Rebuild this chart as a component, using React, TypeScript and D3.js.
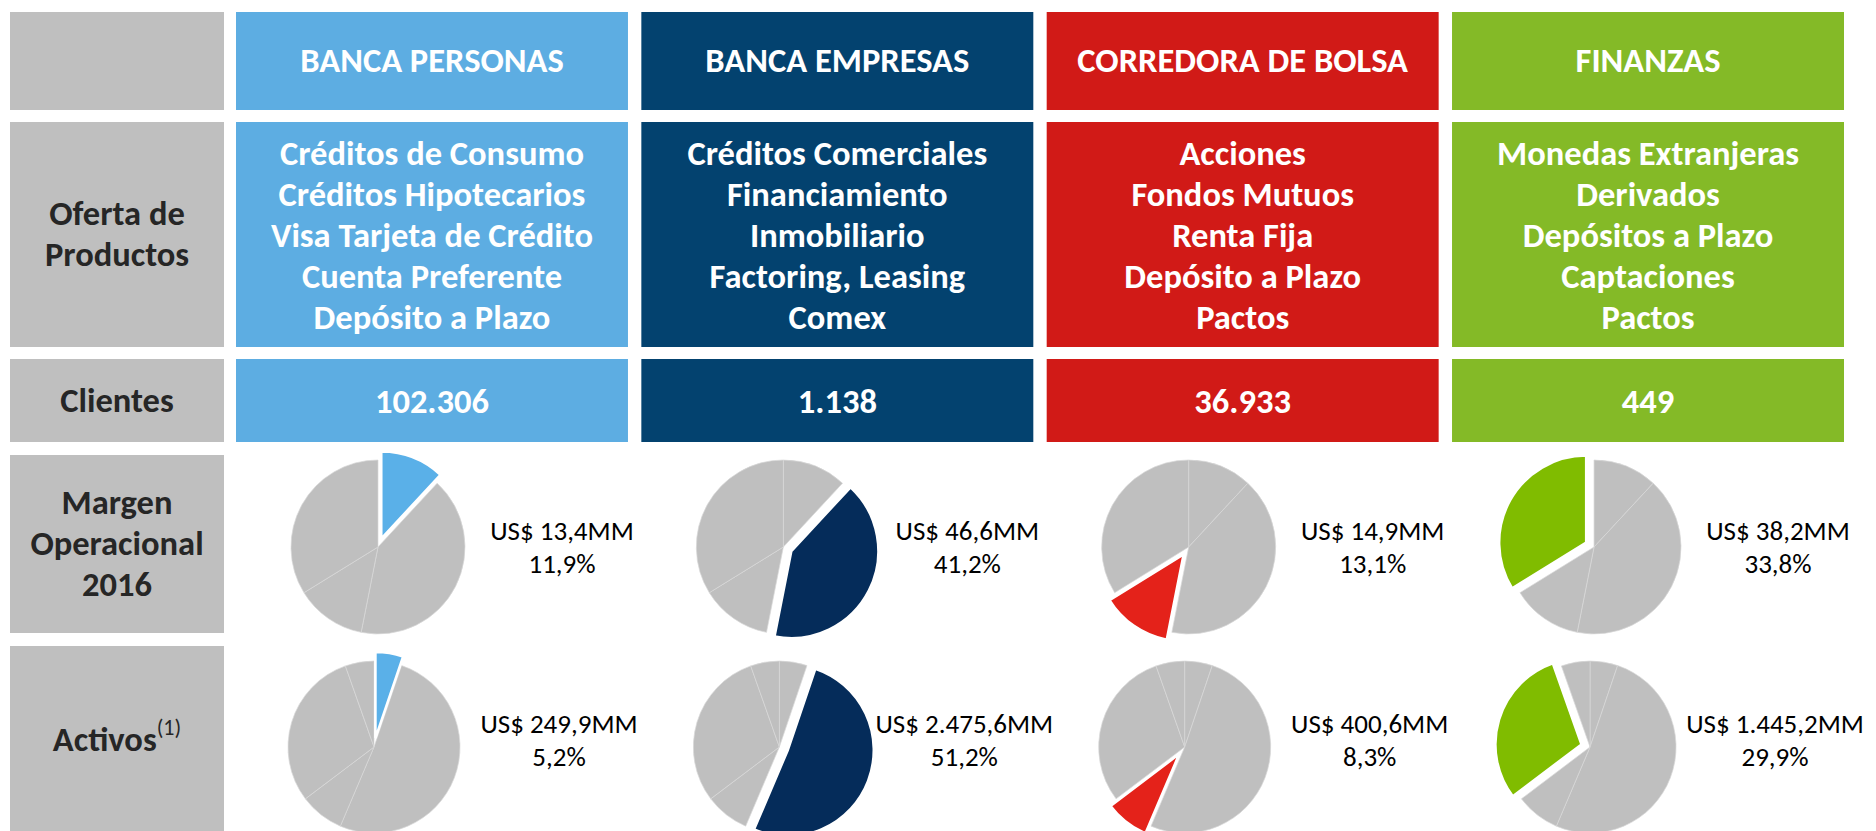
import React from 'react';
import * as d3 from 'd3';

// segment data
const segments = ['BANCA PERSONAS', 'BANCA EMPRESAS', 'CORREDORA DE BOLSA', 'FINANZAS'];
const headerColors = ['#5DADE2', '#03426F', '#D11A17', '#84BA27'];
const sliceColors = ['#5AB0E8', '#052C5A', '#E4221A', '#80BC00'];

const products = [
  ['Créditos de Consumo', 'Créditos Hipotecarios', 'Visa Tarjeta de Crédito', 'Cuenta Preferente', 'Depósito a Plazo'],
  ['Créditos Comerciales', 'Financiamiento', 'Inmobiliario', 'Factoring, Leasing', 'Comex'],
  ['Acciones', 'Fondos Mutuos', 'Renta Fija', 'Depósito a Plazo', 'Pactos'],
  ['Monedas Extranjeras', 'Derivados', 'Depósitos a Plazo', 'Captaciones', 'Pactos'],
];

const clientes = ['102.306', '1.138', '36.933', '449'];

// Margen operacional 2016 (share %, US$ MM)
const margenPct = [11.9, 41.2, 13.1, 33.8];
const margenUsd = ['13,4', '46,6', '14,9', '38,2'];

// Activos (share %, US$ MM) - last value = rest of the group
const activosPct = [5.2, 51.2, 8.3, 29.9, 5.4];
const activosUsd = ['249,9', '2.475,6', '400,6', '1.445,2'];

const W = 1876;
const H = 831;
const FONT = 'Carlito, Lato, sans-serif';
const GRAY = '#BFBFBF';
const BOLD_SIZE = 34.5;
const REG_SIZE = 27;

// row bands [top, bottom]
const rows = {
  header: [12, 110],
  products: [122, 347],
  clientes: [359, 442],
  margen: [455, 633],
  activos: [646, 840],
};

const labelX: [number, number] = [10, 224];
const colScale = d3.scaleBand<string>().domain(segments).range([236, 1844]).paddingInner(0.033);

const fmtPct = (v: number) => d3.format('.1f')(v).replace('.', ',') + '%';

interface PieProps {
  cx: number;
  cy: number;
  r: number;
  values: number[];
  highlight: number;
  color: string;
}

const Pie: React.FC<PieProps> = ({ cx, cy, r, values, highlight, color }) => {
  const arcs = d3.pie<number>().sort(null).value(d => d)(values);
  const arc = d3.arc<d3.PieArcDatum<number>>().innerRadius(0).outerRadius(r);
  const hl = arcs[highlight];
  const mid = (hl.startAngle + hl.endAngle) / 2;
  const off = 9;
  return (
    <g transform={`translate(${cx},${cy})`}>
      {arcs.map((a, i) =>
        i === highlight ? null : (
          <path key={i} d={arc(a) || ''} fill={GRAY} stroke="#D9D9D9" strokeWidth={0.7} />
        )
      )}
      <path
        d={arc(hl) || ''}
        fill={color}
        stroke="#fff"
        strokeWidth={2.5}
        transform={`translate(${Math.sin(mid) * off},${-Math.cos(mid) * off})`}
      />
    </g>
  );
};

const Box: React.FC<{ x: [number, number]; y: number[]; fill: string }> = ({ x, y, fill }) => (
  <rect x={x[0]} y={y[0]} width={x[1] - x[0]} height={y[1] - y[0]} fill={fill} />
);

interface MultiLineProps {
  lines: string[];
  cx: number;
  cy: number;
  fill: string;
  size: number;
  bold?: boolean;
  lh?: number;
}

const MultiLine: React.FC<MultiLineProps> = ({ lines, cx, cy, fill, size, bold = true, lh = 41 }) => (
  <text textAnchor="middle" fill={fill} fontSize={size} fontWeight={bold ? 700 : 400} fontFamily={FONT}>
    {lines.map((l, i) => (
      <tspan key={i} x={cx} y={cy + (i - (lines.length - 1) / 2) * lh} dy="0.33em">
        {l}
      </tspan>
    ))}
  </text>
);

export default function App() {
  const mid = (r: number[]) => (r[0] + Math.min(r[1], H)) / 2;
  const labelFill = '#262626';
  return (
    <div>
      <style>{`body{margin:0;background:#fff}`}</style>
      <svg width={W} height={H} style={{ display: 'block' }}>
        {/* row labels */}
        <Box x={labelX} y={rows.header} fill={GRAY} />
        <Box x={labelX} y={rows.products} fill={GRAY} />
        <Box x={labelX} y={rows.clientes} fill={GRAY} />
        <Box x={labelX} y={rows.margen} fill={GRAY} />
        <Box x={labelX} y={rows.activos} fill={GRAY} />
        <MultiLine lines={['Oferta de', 'Productos']} cx={117} cy={mid(rows.products)} fill={labelFill} size={BOLD_SIZE} />
        <MultiLine lines={['Clientes']} cx={117} cy={mid(rows.clientes)} fill={labelFill} size={BOLD_SIZE} />
        <MultiLine lines={['Margen', 'Operacional', '2016']} cx={117} cy={mid(rows.margen)} fill={labelFill} size={BOLD_SIZE} />
        <text
          x={117}
          y={740}
          dy="0.33em"
          textAnchor="middle"
          fill={labelFill}
          fontSize={BOLD_SIZE}
          fontWeight={700}
          fontFamily={FONT}
        >
          Activos
          <tspan fontSize={22} fontWeight={400} dy="-0.75em">(1)</tspan>
        </text>

        {segments.map((s, i) => {
          const x0 = colScale(s) as number;
          const bw = colScale.bandwidth();
          const xr: [number, number] = [x0, x0 + bw];
          const cx = x0 + bw / 2;
          const pieX = x0 + 142;
          const txtX = x0 + 326;
          return (
            <g key={s}>
              <Box x={xr} y={rows.header} fill={headerColors[i]} />
              <Box x={xr} y={rows.products} fill={headerColors[i]} />
              <Box x={xr} y={rows.clientes} fill={headerColors[i]} />
              <MultiLine lines={[s]} cx={cx} cy={mid(rows.header)} fill="#fff" size={BOLD_SIZE} />
              <MultiLine lines={products[i]} cx={cx} cy={mid(rows.products) + 1} fill="#fff" size={BOLD_SIZE} />
              <MultiLine lines={[clientes[i]]} cx={cx} cy={mid(rows.clientes) + 1} fill="#fff" size={BOLD_SIZE} />

              <Pie cx={pieX} cy={547} r={87} values={margenPct} highlight={i} color={sliceColors[i]} />
              <MultiLine
                lines={[`US$ ${margenUsd[i]}MM`, fmtPct(margenPct[i])]}
                cx={txtX}
                cy={548}
                fill="#000"
                size={REG_SIZE}
                bold={false}
                lh={33}
              />
              <Pie cx={pieX - 4} cy={747} r={86} values={activosPct} highlight={i} color={sliceColors[i]} />
              <MultiLine
                lines={[`US$ ${activosUsd[i]}MM`, fmtPct(activosPct[i])]}
                cx={txtX - 3}
                cy={741}
                fill="#000"
                size={REG_SIZE}
                bold={false}
                lh={33}
              />
            </g>
          );
        })}
      </svg>
    </div>
  );
}
